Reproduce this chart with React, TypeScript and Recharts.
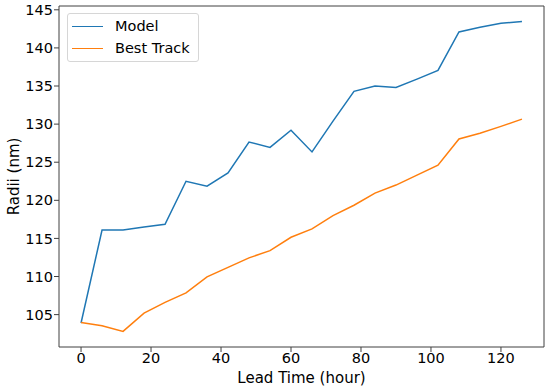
import React from 'react';
import { LineChart, Line, XAxis, YAxis, Legend, ReferenceLine } from 'recharts';

const hours = [0, 6, 12, 18, 24, 30, 36, 42, 48, 54, 60, 66, 72, 78, 84, 90, 96, 102, 108, 114, 120, 126];
const modelRadii = [103.9, 116.1, 116.1, 116.5, 116.85, 122.5, 121.85, 123.6, 127.65, 126.95, 129.2, 126.35, 130.4, 134.3, 135.0, 134.8, 135.9, 137.05, 142.1, 142.7, 143.25, 143.45];
const bestTrackRadii = [103.95, 103.55, 102.8, 105.2, 106.6, 107.85, 109.95, 111.2, 112.45, 113.4, 115.15, 116.25, 118.0, 119.35, 120.95, 122.0, 123.3, 124.6, 128.05, 128.8, 129.7, 130.65];
const xTicks = [0, 20, 40, 60, 80, 100, 120];
const yTicks = [105, 110, 115, 120, 125, 130, 135, 140, 145];

const X_DOMAIN: [number, number] = [-6.3, 132.3];
const Y_DOMAIN: [number, number] = [100.75, 145.5];

const FONT = '"DejaVu Sans", sans-serif';
const AXIS = '#404040';
const SERIES = [
  { key: 'model', name: 'Model', color: '#1f77b4' },
  { key: 'best', name: 'Best Track', color: '#ff7f0e' },
];

const data = hours.map((h, i) => ({ hour: h, model: modelRadii[i], best: bestTrackRadii[i] }));

function LegendBox() {
  return (
    <div
      style={{
        border: '1px solid #d6d6d6',
        borderRadius: 3,
        background: 'rgba(255,255,255,0.8)',
        padding: '1px 8px 2px 4px',
        fontFamily: FONT,
        fontSize: 14.5,
        color: '#000',
      }}
    >
      {SERIES.map((s) => (
        <div key={s.key} style={{ display: 'flex', alignItems: 'center', height: 22 }}>
          <span style={{ width: 31, borderTop: `1.5px solid ${s.color}`, marginRight: 12 }} />
          <span>{s.name}</span>
        </div>
      ))}
    </div>
  );
}

export default function App() {
  const tick = { fill: '#000', fontSize: 14.5, fontFamily: FONT };
  return (
    <div style={{ position: 'absolute', left: 0, top: 0, background: '#fff' }}>
      <LineChart width={550} height={389} data={data} margin={{ top: 6, right: 6, left: 0, bottom: 0 }}>
        <XAxis
          dataKey="hour"
          type="number"
          domain={X_DOMAIN}
          ticks={xTicks}
          tick={tick}
          tickSize={5}
          tickMargin={1}
          height={42}
          stroke={AXIS}
          label={{ value: 'Lead Time (hour)', position: 'center', dy: 10, fill: '#000', fontSize: 15, fontFamily: FONT }}
        />
        <YAxis
          type="number"
          domain={Y_DOMAIN}
          ticks={yTicks}
          tick={tick}
          tickSize={5}
          tickMargin={1}
          width={59}
          stroke={AXIS}
          label={{ value: 'Radii (nm)', angle: -90, position: 'center', dx: -15.5, fill: '#000', fontSize: 15, fontFamily: FONT }}
        />
        <ReferenceLine y={Y_DOMAIN[1]} stroke={AXIS} />
        <ReferenceLine x={X_DOMAIN[1]} stroke={AXIS} />
        <Legend
          layout="vertical"
          align="center"
          verticalAlign="middle"
          content={<LegendBox />}
          wrapperStyle={{ left: 67, top: 13, width: 'auto', height: 'auto' }}
        />
        {SERIES.map((s) => (
          <Line
            key={s.key}
            dataKey={s.key}
            name={s.name}
            stroke={s.color}
            strokeWidth={1.5}
            dot={false}
            isAnimationActive={false}
          />
        ))}
      </LineChart>
    </div>
  );
}
